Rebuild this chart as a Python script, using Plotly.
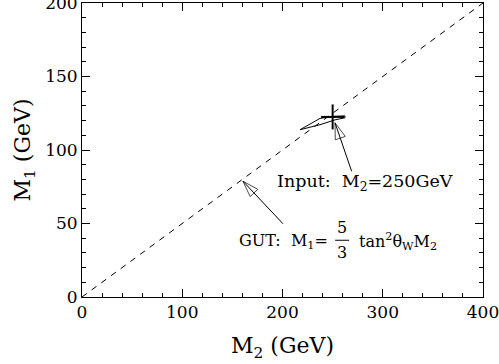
import plotly.graph_objects as go

# GUT relation M1 = 5/3 tan^2(theta_W) M2  (~0.5 M2)
gut_m2 = [0, 400]
gut_m1 = [0, 200]

# input point and its uncertainty
input_m2 = [250]
input_m1 = [122.5]
input_err_m2 = [11.5]
input_err_m1 = [8.5]

# fitted contour around the input point
contour_m2 = [217.5, 237.4, 250.4, 262.3, 262.3, 252.4, 237.4, 217.5]
contour_m1 = [113.8, 121.5, 122.9, 123.2, 121.9, 120.5, 117.2, 113.8]

# arrows (tail -> tip)
input_arrow_m2 = [269, 252.4]
input_arrow_m1 = [85.5, 118.5]
gut_arrow_m2 = [200.5, 160.5]
gut_arrow_m1 = [49.8, 78.8]

FONT = "DejaVu Serif"

fig = go.Figure()

fig.add_trace(go.Scatter(
    x=gut_m2, y=gut_m1, mode="lines",
    line=dict(color="black", width=1, dash="6px,6px"),
    showlegend=False, hoverinfo="skip"
))

fig.add_trace(go.Scatter(
    x=contour_m2, y=contour_m1, mode="lines",
    line=dict(color="black", width=1),
    showlegend=False, hoverinfo="skip"
))

fig.add_trace(go.Scatter(
    x=input_m2, y=input_m1, mode="markers",
    marker=dict(size=1, color="black"),
    error_x=dict(type="data", array=input_err_m2, color="black", thickness=2, width=0),
    error_y=dict(type="data", array=input_err_m1, color="black", thickness=2, width=0),
    showlegend=False, hoverinfo="skip"
))

# arrows with open heads
for ax_, ay_ in [(input_arrow_m2, input_arrow_m1), (gut_arrow_m2, gut_arrow_m1)]:
    fig.add_trace(go.Scatter(
        x=ax_, y=ay_, mode="lines",
        line=dict(color="black", width=1),
        showlegend=False, hoverinfo="skip"
    ))
    fig.add_trace(go.Scatter(
        x=ax_, y=ay_, mode="markers",
        marker=dict(symbol="arrow-open", size=[0, 17], angleref="previous",
                    color="black", line=dict(color="black", width=1)),
        showlegend=False, hoverinfo="skip"
    ))

annots = [
    dict(x=192.5, y=78.1, text="Input:  M<sub>2</sub>=250GeV", xanchor="left", size=17.5),
    dict(x=154.6, y=37.7, text="GUT:  M<sub>1</sub>=", xanchor="left", size=16),
    dict(x=259.4, y=47.0, text="5", xanchor="center", size=16),
    dict(x=259.4, y=30.5, text="3", xanchor="center", size=16),
    dict(x=274.3, y=37.7, text="tan<sup>2</sup>θ<sub>W</sub>M<sub>2</sub>", xanchor="left", size=16),
]
for a in annots:
    size = a.pop("size")
    fig.add_annotation(xref="x", yref="y", showarrow=False, yanchor="middle",
                       font=dict(family=FONT, size=size, color="black"), **a)

# fraction bar
fig.add_shape(type="line", xref="x", yref="y", x0=252.5, x1=266.5, y0=38.6, y1=38.6,
              line=dict(color="black", width=1))

axis_common = dict(
    showgrid=False, zeroline=False, showline=True, linecolor="black", linewidth=1,
    mirror="allticks", ticks="inside", ticklen=8, tickcolor="black", automargin=False,
    ticklabeloverflow="allow",
    tickfont=dict(family=FONT, size=17, color="black"),
)

fig.update_xaxes(range=[0, 400], tickvals=[0, 100, 200, 300, 400],
                 minor=dict(dtick=20, ticks="inside", ticklen=4, tickcolor="black"),
                 title=dict(text="M<sub>2</sub> (GeV)", font=dict(family=FONT, size=22, color="black"), standoff=16),
                 **axis_common)
fig.update_yaxes(range=[0, 200], tickvals=[0, 50, 100, 150, 200],
                 minor=dict(dtick=10, ticks="inside", ticklen=4, tickcolor="black"),
                 title=dict(text="M<sub>1</sub> (GeV)", font=dict(family=FONT, size=22, color="black"), standoff=8),
                 **axis_common)

fig.update_layout(
    width=499, height=364,
    margin=dict(l=82, r=16, t=3, b=67),
    plot_bgcolor="white", paper_bgcolor="white",
    showlegend=False,
)

fig.write_html("out.html", config={"displayModeBar": False},
               post_script="document.body.style.margin='0';")
